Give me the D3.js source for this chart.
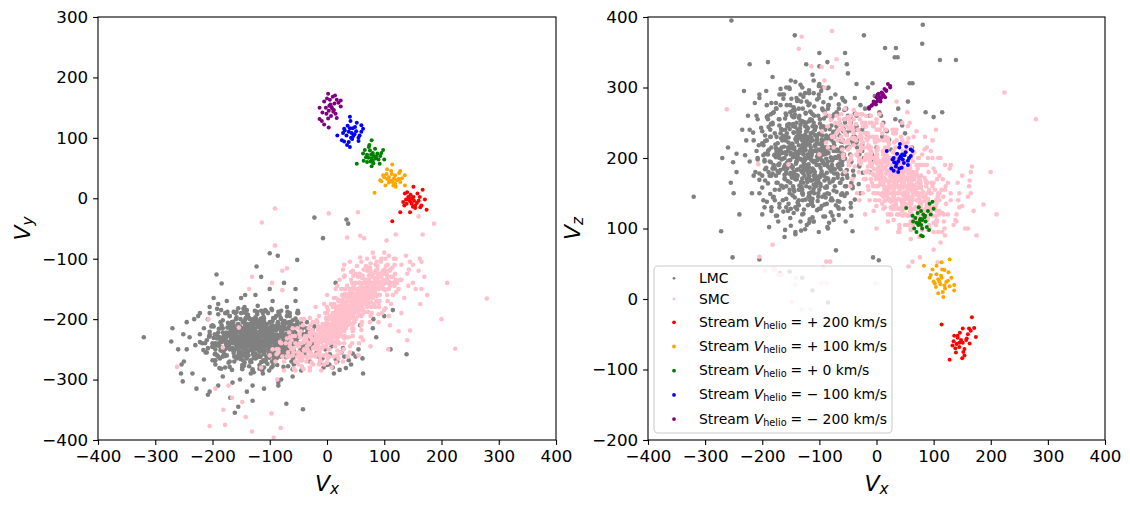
<!DOCTYPE html>
<html><head><meta charset="utf-8">
<script src="https://cdn.jsdelivr.net/npm/d3@7"></script>
<style>
body{margin:0;background:#fff;}
svg text{font-family:"DejaVu Sans",sans-serif;}
</style></head><body>
<svg id="chart" width="1130" height="507"></svg>
<script>
// LMC particles: [Vx, Vy, Vz]
const lmc = [
[-118,-231,205],[-132,-219,188],[-105,-240,221],[-141,-228,176],[-97,-215,243],[-125,-247,197],[-150,-236,214],[-110,-209,162],[-88,-230,199],[-136,-252,232],
[-121,-224,181],[-160,-241,208],[-79,-221,226],[-115,-199,151],[-144,-213,259],[-102,-249,190],[-129,-232,140],[-93,-238,212],[-168,-226,183],[-112,-218,236],
[-138,-244,203],[-85,-207,171],[-123,-262,225],[-155,-220,195],[-99,-233,249],[-131,-205,166],[-107,-227,210],[-147,-258,186],[-72,-225,201],[-119,-240,275],
[-177,-239,219],[-90,-212,158],[-127,-216,192],[-114,-251,229],[-152,-230,241],[-100,-222,174],[-135,-237,207],[-82,-244,185],[-163,-211,230],[-109,-235,196],
[-124,-228,264],[-146,-246,160],[-95,-203,218],[-117,-220,145],[-139,-255,199],[-76,-232,237],[-128,-210,211],[-158,-233,178],[-104,-243,202],[-133,-224,253],
[-185,-247,194],[-62,-214,209],[-142,-198,227],[-111,-268,183],[-170,-222,246],[-91,-250,168],[-120,-234,133],[-149,-215,284],[-68,-239,190],[-126,-205,223],
[-195,-240,206],[-83,-228,149],[-137,-260,238],[-103,-190,197],[-161,-250,171],[-74,-209,262],[-130,-241,215],[-115,-213,180],[-153,-229,300],[-96,-256,226],
[-180,-258,188],[-57,-221,205],[-122,-236,244],[-145,-204,156],[-87,-242,179],[-134,-271,212],[-108,-217,233],[-166,-237,198],[-81,-198,215],[-127,-226,127],
[-200,-245,221],[-66,-235,187],[-140,-225,170],[-99,-261,255],[-174,-214,204],[-112,-246,142],[-154,-240,229],[-78,-216,196],[-119,-252,187],[-143,-208,268],
[-90,-236,117],[-131,-223,231],[-187,-230,175],[-60,-245,223],[-116,-201,208],[-157,-263,193],[-101,-228,290],[-136,-235,155],[-70,-226,239],[-125,-257,200],
[-210,-255,210],[-48,-230,216],[-165,-205,240],[-94,-272,176],[-222,-238,195],[-52,-208,183],[-148,-280,220],[-106,-187,164],[-190,-262,260],[-64,-251,248],
[-138,-193,137],[-113,-285,206],[-205,-226,169],[-45,-219,194],[-172,-272,212],[-84,-190,275],[-128,-288,181],[-159,-200,225],[-71,-263,133],[-121,-178,219],
[-216,-251,236],[-55,-240,160],[-182,-215,185],[-97,-280,210],[-146,-183,248],[-77,-253,118],[-196,-269,197],[-40,-225,231],[-163,-188,158],[-118,-276,292],
[-230,-243,204],[-59,-266,177],[-176,-231,270],[-89,-195,144],[-133,-290,228],[-150,-190,189],[-69,-206,212],[-202,-212,243],[-108,-270,170],[-184,-252,125],
[-35,-252,222],[-20,-260,245],[-8,-265,205],[5,-258,265],[18,-270,238],[30,-262,190],[42,-275,252],[-28,-245,275],[-12,-272,180],[10,-280,230],
[25,-255,212],[38,-268,270],[50,-262,235],[-42,-258,160],[-3,-250,288],[15,-266,198],[33,-281,255],[-25,-238,240],[0,-276,215],[55,-250,280],
[-30,-270,205],[8,-245,260],[22,-284,226],[45,-257,246],[-15,-262,300],[28,-248,175],[62,-265,215],[-38,-240,230],[12,-290,250],[-5,-235,195],
[-260,-250,215],[-245,-205,180],[-235,-290,240],[-250,-270,150],[-225,-195,260],[-215,-300,175],[-240,-230,120],[-205,-180,290],[-190,-310,205],[-175,-170,230],
[-165,-305,160],[-150,-165,310],[-140,-320,195],[-125,-160,245],[-110,-315,110],[-95,-170,300],[-80,-300,140],[-70,-180,265],[-60,-295,215],[-50,-190,320],
[-270,-215,200],[-228,-315,225],[-198,-165,140],[-182,-295,315],[-130,-335,180],[-100,-150,330],[-85,-310,100],[-55,-170,280],[-45,-285,250],[-35,-205,305],
[-155,-345,210],[-115,-130,235],[-208,-325,255],[-75,-140,170],[-255,-290,165],
[-113,-226,168],[-139,-233,224],[-98,-219,186],[-127,-241,251],[-151,-224,197],[-86,-234,213],[-119,-212,178],[-143,-250,206],[-105,-238,230],[-131,-229,159],
[-162,-232,216],[-94,-226,193],[-122,-245,238],[-137,-217,184],[-109,-231,260],[-148,-239,172],[-80,-220,201],[-117,-253,219],[-156,-215,245],[-101,-242,165],
[-128,-222,209],[-171,-244,190],[-89,-237,227],[-134,-208,199],[-112,-249,152],[-145,-226,236],[-73,-229,184],[-124,-236,211],[-159,-248,263],[-97,-214,177],
[-141,-242,192],[-106,-223,244],[-130,-251,171],[-167,-229,228],[-84,-247,207],[-119,-204,191],[-152,-237,150],[-92,-228,256],[-136,-214,218],[-110,-258,183],
[-179,-233,204],[-77,-240,167],[-125,-219,233],[-149,-254,214],[-103,-233,139],[-133,-238,247],[-65,-218,192],[-115,-247,224],[-161,-221,176],[-95,-230,215],
[-144,-234,258],[-107,-211,195],[-128,-264,205],[-173,-226,165],[-88,-252,232],[-121,-227,187],[-154,-245,222],[-99,-220,173],[-138,-228,240],[-111,-239,210],
[-186,-236,230],[-70,-224,210],[-132,-246,182],[-116,-215,266],[-147,-231,188],[-91,-245,148],[-126,-232,215],[-164,-252,199],[-82,-213,241],[-118,-239,174],
[-140,-220,208],[-104,-244,226],[-135,-227,161],[-157,-241,235],[-96,-236,197],[-123,-209,250],[-150,-247,179],[-75,-233,222],[-114,-222,203],[-142,-256,244],
[-193,-243,186],[-63,-238,198],[-129,-230,270],[-168,-218,211],[-100,-249,190],[-137,-243,133],[-86,-226,228],[-120,-213,242],[-158,-229,160],[-108,-235,218],
[-146,-219,201],[-79,-248,181],[-124,-233,229],[-176,-247,214],[-102,-225,169],[-134,-212,237],[-113,-254,196],[-153,-234,248],[-90,-218,209],[-127,-249,185],
[-198,-231,218],[-58,-232,238],[-143,-224,144],[-109,-246,273],[-171,-240,179],[-87,-210,192],[-121,-238,220],[-160,-225,256],[-98,-239,202],[-132,-248,166],
[-182,-222,248],[-68,-250,176],[-139,-236,226],[-116,-221,140],[-150,-243,207],[-93,-233,245],[-126,-216,189],[-163,-256,231],[-81,-237,214],[-117,-244,158],
[-150,-241,104],[-132,-219,97],[-118,-262,108],[-101,-233,95],[-86,-208,102],[-142,-250,92],[-110,-226,110],[-125,-197,99],
[-176,-238,118],[-163,-215,124],[-151,-262,115],[-139,-227,127],[-128,-205,121],[-117,-249,113],[-104,-221,126],[-93,-268,117],[-80,-240,123],[-66,-212,119],[-58,-252,128],[-170,-195,130],[-145,-277,122],[-112,-190,116],
[-192,-232,138],[-181,-251,144],[-170,-210,135],[-158,-265,142],[-147,-229,147],[-136,-243,133],[-124,-199,141],[-113,-270,137],[-102,-224,145],[-91,-252,134],[-79,-213,143],[-68,-238,139],[-56,-260,146],[-45,-222,136],[-38,-245,141],[-186,-205,149],[-130,-285,150],[-96,-185,132],
[-200,-246,158],[-190,-222,164],[-178,-259,155],[-167,-234,161],[-155,-208,167],[-144,-272,153],[-133,-228,160],[-121,-250,166],[-110,-203,156],[-98,-239,163],[-87,-264,158],[-75,-217,154],[-64,-242,165],[-53,-229,160],[-42,-255,157],[-31,-236,163],[-160,-190,170],[-115,-280,168],[-70,-195,152],[-195,-268,168],
[-205,-221,178],[-195,-250,184],[-184,-233,175],[-173,-206,181],[-162,-262,187],[-151,-240,177],[-140,-214,183],[-129,-255,179],[-118,-231,186],[-107,-268,175],[-96,-220,181],[-85,-246,188],[-74,-203,178],[-63,-259,184],[-52,-232,176],[-41,-214,182],[-30,-250,188],[-24,-228,179],[-178,-190,185],[-122,-192,190],[-68,-278,172],[-148,-283,174],
[-208,-248,198],[-198,-212,204],[-187,-265,195],[-176,-238,201],[-165,-219,207],[-154,-252,196],[-143,-201,202],[-132,-271,198],[-121,-244,205],[-110,-216,194],[-99,-258,200],[-88,-229,206],[-77,-207,197],[-66,-248,203],[-55,-223,199],[-44,-261,195],[-33,-237,204],[-22,-212,200],[-170,-279,192],[-115,-186,208],[-60,-283,190],[-190,-192,210],
[-206,-229,218],[-195,-257,224],[-184,-210,215],[-173,-244,221],[-162,-226,227],[-151,-266,217],[-140,-238,223],[-129,-205,219],[-118,-253,226],[-107,-231,216],[-96,-270,222],[-85,-214,228],[-74,-248,218],[-63,-226,224],[-52,-204,215],[-41,-254,221],[-30,-233,227],[-25,-218,219],[-158,-188,230],[-101,-285,212],[-188,-281,212],[-65,-190,232],
[-200,-240,238],[-189,-216,244],[-178,-261,235],[-167,-233,241],[-156,-209,247],[-145,-248,236],[-134,-227,242],[-123,-264,238],[-112,-202,245],[-101,-241,234],[-90,-218,240],[-79,-257,246],[-68,-235,237],[-57,-211,243],[-46,-246,239],[-35,-224,245],[-185,-282,248],[-140,-185,250],[-95,-278,232],[-52,-190,236],
[-192,-226,258],[-181,-254,264],[-170,-212,255],[-158,-240,261],[-147,-268,267],[-136,-221,257],[-124,-247,263],[-113,-205,254],[-102,-233,260],[-91,-259,266],[-79,-219,256],[-68,-244,262],[-56,-228,268],[-45,-207,258],[-38,-252,263],[-175,-190,270],[-130,-283,252],[-85,-188,270],
[-176,-243,278],[-163,-221,284],[-151,-256,275],[-139,-208,281],[-128,-237,287],[-117,-262,277],[-104,-218,283],[-93,-246,279],[-80,-229,285],[-66,-255,276],[-58,-210,282],[-170,-270,290],[-145,-189,272],[-110,-280,292],
[-152,-236,298],[-133,-214,304],[-118,-251,296],[-101,-227,302],[-86,-205,299],[-142,-262,308],[-110,-199,310],[-125,-240,292],
[-120,-230,200],[-105,-225,190],[-135,-235,210],[-115,-240,215],[-125,-220,185],[-140,-228,195],[-95,-232,205],[-130,-245,225],[-110,-215,175],[-145,-238,180],
[-100,-244,220],[-150,-226,205],[-85,-228,195],[-160,-236,190],[-120,-250,230],[-118,-210,170],[-137,-222,235],[-92,-240,175],[-128,-232,165],[-108,-236,240],
[-155,-244,215],[-88,-218,215],[-142,-216,170],[-112,-248,185],[-126,-226,250],[-98,-226,160],[-134,-242,155],[-146,-232,245],[-104,-230,230],[-116,-222,210],
[-170,-225,200],[-75,-236,210],[-165,-240,225],[-80,-224,185],[-158,-222,180],[-82,-246,230],[-175,-246,210],[-70,-216,200],[-180,-228,190],[-62,-242,215],
[-205,-190,150],[-195,-275,232],[-185,-185,262],[-178,-280,140],[-170,-195,205],[-162,-270,290],[-155,-182,125],[-148,-276,188],[-140,-192,285],[-133,-268,110],
[-126,-186,228],[-118,-282,252],[-111,-196,132],[-104,-274,170],[-97,-183,295],[-90,-266,215],[-83,-193,108],[-76,-279,260],[-69,-188,178],[-62,-270,148],
[-55,-199,250],[-48,-262,190],[-200,-268,120],[-192,-183,275],[-182,-262,178],[-174,-188,118],[-166,-284,240],[-158,-197,300],[-151,-265,165],[-144,-180,212],
[-136,-278,270],[-129,-200,150],[-122,-188,105],[-115,-271,198],[-108,-185,245],[-101,-264,128],[-94,-198,268],[-87,-276,160],[-80,-186,232],[-72,-262,290],
[-65,-195,138],[-58,-275,205],[-51,-186,172],[-44,-268,118],[-210,-235,260],[-215,-215,225],[-212,-255,180],[-208,-200,200],[-218,-240,150],[-222,-225,240],
[-188,-245,102],[-160,-225,98],[-130,-215,300],[-100,-240,305],[-75,-230,112],[-60,-220,285],[-45,-245,130],[-35,-215,260],[-28,-240,150],[-20,-230,270],
[-205,-228,285],[-172,-242,110],[-142,-260,95],[-112,-212,318],[-84,-250,300],[-54,-235,110],[-38,-260,285],[-196,-258,130],[-168,-212,298],[-66,-205,128],
[-150,-230,190],[-120,-240,180],[-90,-225,225],[-140,-245,230],[-105,-215,210],[-160,-230,240],[-75,-245,200],[-130,-210,155],[-115,-235,265],[-95,-250,145],
[-145,-205,175],[-125,-265,215],[-85,-210,170],[-110,-255,250],[-170,-250,155],[-135,-200,260],[-100,-205,155],[-155,-260,245],[-60,-230,170],[-180,-235,265],
[-185,-215,230],[-178,-250,205],[-171,-228,255],[-164,-205,140],[-157,-262,275],[-150,-218,128],[-143,-245,262],[-136,-198,208],[-129,-258,148],[-122,-225,280],
[-115,-206,135],[-108,-252,240],[-101,-215,285],[-94,-262,195],[-87,-230,135],[-80,-200,258],[-73,-255,160],[-66,-222,270],[-59,-248,225],[-52,-212,150],
[-189,-240,180],[-182,-202,250],[-175,-260,165],[-168,-235,275],[-161,-215,200],[-154,-255,135],[-147,-205,220],[-140,-265,170],[-133,-232,290],[-126,-200,175],
[-119,-260,145],[-112,-238,262],[-105,-208,225],[-98,-248,128],[-91,-198,190],[-84,-258,275],[-77,-225,140],[-70,-250,245],[-63,-208,165],[-56,-235,255],
[-180,-228,145],[-172,-208,190],[-165,-248,290],[-158,-232,130],[-151,-200,265],[-144,-258,215],[-137,-218,282],[-130,-236,120],[-123,-205,160],[-116,-262,230],
[-109,-222,150],[-102,-256,205],[-95,-210,270],[-88,-240,172],[-81,-262,215],[-74,-214,230],[-67,-238,130],[-60,-202,195],[-53,-258,270],[-46,-228,205],
[-186,-252,240],[-176,-222,175],[-166,-205,215],[-156,-245,185],[-146,-260,258],[-136,-210,140],[-126,-250,190],[-116,-200,255],[-106,-262,160],[-96,-220,245],
[-86,-245,150],[-76,-205,185],[-66,-260,210],[-56,-225,180],[-46,-250,225],[-196,-225,195],[-192,-260,225],[-200,-210,175],[-40,-238,175],[-34,-220,215],
[-148,-222,260],[-138,-252,175],[-128,-216,195],[-118,-228,150],[-108,-242,180],[-98,-212,235],[-88,-232,260],[-158,-240,205],[-168,-218,235],[-78,-244,190],
[-142,-230,130],[-132,-222,280],[-122,-244,170],[-112,-228,225],[-102,-236,150],[-92,-252,205],[-152,-212,155],[-162,-252,185],[-172,-238,210],[-82,-216,165],
[-190,-230,255],[-184,-238,130],[-60,-250,150],[-50,-240,260],[-44,-215,165],[-36,-248,240],[-30,-222,190],[-25,-240,210],[-18,-255,235],[-12,-248,260],
[-22,-32,374],[34,-35,356],[37,-42,343],[-7,-66,306],[-100,-91,349],[-86,-95,336],[-52,-102,333],[-123,-113,333],[-193,-126,295],[-184,-141,278],
[-42,-349,96],[-71,-340,69],[-161,-355,88],[-205,-320,56],[-252,-303,59],[139,-258,339],[115,-185,265],[100,-195,258],[63,-290,306],[-245,-250,206],
[-251,-225,194],[-169,-330,37],[-152,-300,39],[-130,-310,30],[-112,-290,12],[-85,-305,-5],[-6,-280,59],[4,-275,55],[-143,-160,374],[-190,-175,336],
[-222,-190,333],[-55,-150,349],[15,-140,356],[32,-160,343],[111,-250,339],[58,-210,306],[86,-230,265],[-232,-200,295],[-213,-240,278],[-320,-230,145],
[-272,-237,96],[-254,-275,395],[81,-200,389],[80,-215,362]
];
// SMC particles: [Vx, Vy, Vz]
const smc = [
[35,-186,170],[20,-210,182],[52,-172,148],[8,-221,195],[66,-160,160],[-5,-228,176],[44,-195,130],[28,-178,190],[75,-150,141],[12,-200,205],
[58,-184,168],[-15,-240,188],[40,-165,152],[25,-215,160],[88,-140,133],[0,-205,210],[47,-190,175],[62,-170,120],[15,-230,170],[33,-175,200],
[80,-165,150],[-25,-235,214],[54,-155,185],[18,-195,145],[70,-180,158],[-8,-212,165],[38,-200,178],[95,-130,125],[22,-185,220],[60,-145,138],
[5,-240,180],[45,-170,162],[30,-220,155],[84,-155,172],[-30,-255,200],[50,-185,142],[10,-190,192],[72,-140,128],[27,-205,168],[-12,-225,230],
[65,-175,150],[42,-160,188],[2,-230,160],[90,-150,115],[36,-210,176],[-20,-245,197],[57,-165,164],[14,-215,139],[78,-130,157],[24,-170,183],
[-40,-250,218],[100,-125,130],[-35,-262,205],[105,-140,112],[-50,-255,225],[110,-118,140],[-45,-240,198],[96,-145,150],[-55,-270,235],[115,-130,122],
[-28,-230,210],[85,-120,145],[-60,-260,245],[92,-160,105],[-18,-250,180],[76,-125,168],[-32,-240,240],[102,-152,128],[-48,-268,190],[68,-135,175],
[-10,-235,205],[82,-175,118],[-38,-228,228],[98,-135,160],[-22,-260,170],[88,-148,137],[-65,-245,255],[118,-145,110],[-15,-215,215],[74,-158,130],
[4,-250,186],[64,-150,195],[16,-225,212],[56,-140,118],[-2,-198,150],[48,-205,140],[26,-160,175],[38,-230,190],[7,-175,168],[60,-195,110],
[32,-150,158],[44,-215,198],[-6,-260,160],[70,-120,150],[20,-240,228],[54,-130,170],[-3,-190,225],[86,-170,140],[12,-165,198],[40,-245,150],
[30,-195,165],[46,-178,175],[19,-205,158],[63,-162,144],[9,-215,180],[51,-168,160],[36,-182,185],[24,-198,150],[58,-158,172],[14,-208,195],
[42,-188,140],[28,-172,168],[67,-150,155],[3,-222,172],[49,-175,132],[34,-205,205],[73,-148,165],[17,-188,178],[55,-190,150],[39,-170,128],
[-12,-238,195],[81,-142,152],[26,-212,188],[61,-178,135],[6,-198,163],[45,-158,190],[22,-225,142],[69,-168,178],[11,-180,210],[53,-150,145],
[31,-230,175],[77,-160,130],[-1,-212,202],[41,-165,155],[18,-235,168],[64,-140,162],[29,-185,132],[50,-200,182],[8,-228,148],[87,-135,160],
[37,-160,170],[23,-190,198],[59,-172,125],[13,-220,185],[47,-145,165],[-7,-245,178],[72,-155,185],[33,-215,140],[57,-180,200],[21,-170,155],
[-70,-262,260],[-80,-240,254],[-90,-270,263],[-75,-285,230],[-85,-255,215],[-65,-230,240],[-95,-250,238],[-55,-285,270],[-60,-215,225],[-100,-260,205],
[130,-110,140],[125,-150,165],[140,-125,120],[120,-100,155],[135,-165,105],[145,-105,150],[128,-135,185],[150,-140,132],[115,-160,95],[138,-95,112],
[160,-120,145],[155,-150,100],[170,-130,125],[165,-105,180],[175,-160,90],[108,-95,200],[95,-100,210],[85,-110,190],[112,-175,80],[100,-185,95],
[-45,-200,260],[-25,-205,250],[-5,-175,245],[15,-150,240],[30,-130,235],[45,-120,225],[60,-105,215],[80,-90,205],[75,-115,88],[60,-230,85],
[40,-255,95],[20,-265,110],[-5,-275,125],[-30,-285,140],[90,-205,100],[110,-210,120],[130,-190,150],[55,-260,105],[0,-160,100],[-20,-180,120],
[34,-192,162],[27,-200,176],[49,-180,150],[15,-212,186],[61,-166,158],[6,-220,170],[43,-176,141],[21,-205,195],[55,-170,178],[11,-226,150],
[38,-186,183],[30,-214,145],[66,-154,170],[1,-230,192],[47,-162,165],[25,-190,138],[58,-176,190],[9,-208,175],[41,-198,156],[70,-158,148],
[18,-218,202],[52,-160,134],[33,-196,170],[-4,-236,184],[63,-148,152],[29,-176,160],[45,-208,188],[13,-198,166],[74,-164,139],[36,-170,198],
[20,-228,180],[57,-152,160],[-9,-230,208],[48,-190,146],[26,-182,184],[68,-162,130],[4,-216,190],[39,-206,168],[82,-150,145],[16,-186,154],
[53,-178,172],[31,-188,150],[-16,-244,200],[60,-156,140],[24,-222,174],[44,-168,180],[10,-214,162],[71,-145,165],[35,-198,128],[50,-158,195],
[-24,-248,222],[78,-140,135],[28,-208,158],[62,-182,162],[7,-196,182],[46,-150,148],[19,-230,192],[84,-146,125],[37,-180,176],[-10,-220,215],
[56,-164,143],[23,-200,167],[67,-170,153],[3,-238,176],[42,-154,187],[32,-210,133],[75,-152,158],[12,-190,205],[50,-172,120],[-20,-230,235],
[90,-138,142],[40,-192,160],[17,-204,150],[64,-158,180],[-2,-224,196],[54,-186,156],[29,-164,172],[80,-156,110],[8,-232,164],[45,-196,174],
[-30,-240,230],[94,-124,150],[26,-194,140],[59,-150,185],[14,-222,158],[72,-168,127],[-8,-208,188],[37,-162,150],[86,-162,128],[22,-178,165],
[-36,-252,225],[105,-128,135],[-42,-262,240],[99,-142,118],[-27,-225,196],[89,-126,165],[-50,-245,212],[108,-150,145],[-18,-258,205],[83,-132,110],
[-62,-250,230],[-58,-282,205],[-65,-240,250],[-55,-270,222],[-60,-228,212],[-68,-262,238],
[-47,-230,215],[-43,-268,228],[-49,-245,195],[-41,-283,240],[-46,-220,250],[-44,-258,203],[-50,-275,222],[-40,-238,235],
[-32,-215,210],[-28,-256,192],[-33,-228,240],[-27,-272,225],[-31,-242,180],[-29,-210,255],[-34,-265,205],[-26,-235,230],[-30,-280,198],[-28,-222,218],
[-17,-205,200],[-13,-248,230],[-16,-218,182],[-12,-262,212],[-18,-233,245],[-14,-195,218],[-11,-270,190],[-19,-240,170],[-15,-212,235],[-13,-255,205],[-16,-228,225],[-14,-275,180],
[-2,-190,195],[2,-235,215],[-1,-205,170],[3,-250,240],[-3,-220,160],[1,-265,200],[0,-180,230],[2,-212,185],[-2,-245,222],[3,-198,150],[1,-228,205],[-1,-258,175],[0,-240,250],[2,-185,212],
[13,-175,185],[17,-222,205],[14,-190,160],[16,-238,230],[12,-205,145],[18,-252,190],[15,-165,215],[13,-230,172],[17,-196,240],[14,-245,155],[16,-180,200],[12,-215,225],[18,-260,178],[15,-210,195],
[28,-165,178],[32,-210,195],[29,-180,150],[31,-228,222],[27,-150,200],[33,-195,138],[30,-240,185],[28,-172,240],[32,-205,162],[29,-250,208],[31,-158,128],[27,-218,172],[33,-185,215],[30,-232,145],
[43,-150,170],[47,-198,185],[44,-168,140],[46,-215,210],[42,-135,195],[48,-182,128],[45,-228,165],[43,-160,230],[47,-205,150],[44,-240,195],[46,-145,118],[42,-190,175],[48,-172,220],[45,-220,135],
[58,-140,160],[62,-185,175],[59,-155,130],[61,-205,200],[57,-125,185],[63,-170,118],[60,-218,155],[58,-148,215],[62,-192,140],[59,-230,180],[61,-132,108],[57,-178,165],[63,-160,205],[60,-210,125],
[73,-128,150],[77,-172,165],[74,-142,120],[76,-195,190],[72,-115,175],[78,-158,108],[75,-205,145],[73,-135,200],[77,-180,130],[74,-150,170],[76,-120,135],[72,-188,158],
[88,-118,140],[92,-160,155],[89,-132,112],[91,-180,180],[87,-105,165],[93,-145,100],[90,-192,135],[88,-125,190],[92,-170,122],[89,-140,150],
[103,-112,130],[107,-150,145],[104,-125,105],[106,-170,170],[102,-100,155],[108,-138,95],[105,-160,125],[103,-120,180],
[118,-110,120],[122,-140,135],[119,-125,100],[121,-155,160],[117,-100,145],
[35,-185,165],[40,-178,158],[25,-195,172],[50,-168,152],[20,-200,180],[55,-175,160],[30,-190,148],[45,-172,175],[15,-210,168],[60,-160,145],
[10,-205,188],[65,-155,150],[38,-200,160],[42,-170,140],[28,-182,190],[52,-185,170],[22,-215,160],[48,-158,165],[33,-178,182],[58,-172,135],
[5,-225,195],[70,-150,140],[-5,-230,200],[80,-140,138],[-10,-238,210],[85,-135,145],[36,-165,150],[26,-205,178],[46,-190,158],[16,-195,200],
[62,-165,168],[8,-215,175],[54,-150,142],[24,-178,158],[40,-208,185],[68,-140,155],[12,-190,165],[34,-172,135],[50,-198,172],[20,-188,150],
[44,-182,190],[30,-205,160],[56,-162,178],[18,-222,190],[66,-148,128],[2,-208,180],[72,-165,150],[-8,-215,192],[78,-150,160],[38,-192,142],
[22,-135,200],[28,-118,150],[35,-145,225],[40,-105,120],[46,-128,180],[52,-112,210],[58,-98,140],[64,-118,105],[70,-100,190],[76,-108,160],
[82,-98,125],[88,-112,215],[94,-105,150],[100,-118,185],[106,-110,110],[25,-150,130],[31,-128,240],[38,-158,95],[44,-140,205],[50,-125,135],
[56,-140,228],[62,-128,172],[68,-112,112],[74,-140,200],[80,-125,98],[86,-140,168],[92,-125,130],[98,-150,200],[104,-135,140],[110,-145,175],
[20,-168,215],[26,-178,128],[34,-172,235],[40,-190,105],[48,-150,195],[54,-195,222],[60,-178,100],[66,-188,208],[72,-175,118],[78,-190,175],
[84,-180,212],[90,-175,98],[96,-190,165],[102,-182,128],[108,-195,150],[18,-145,180],[30,-110,175],[42,-122,160],[66,-135,150],[90,-160,140],
[-55,-240,180],[-48,-225,255],[-42,-210,170],[-36,-270,262],[-30,-198,195],[-24,-275,150],[-18,-202,260],[-12,-268,140],[-6,-210,245],[0,-272,132],
[6,-200,240],[12,-262,128],[18,-208,225],[24,-255,140],[30,-200,235],[36,-262,120],[-52,-215,245],[-46,-262,160],[-40,-200,228],[-34,-250,150],
[-26,-218,262],[-20,-262,200],[-14,-225,155],[-8,-248,250],[-2,-230,140],[4,-262,225],[10,-238,135],[16,-272,210],[22,-240,150],[28,-270,200],
[-58,-255,200],[-38,-232,188],[-22,-246,215],[-6,-235,230],[10,-222,245],[26,-228,120],[-44,-278,245],[-28,-262,235],[-10,-285,200],[8,-280,170],
[40,-180,100],[50,-170,105],[60,-160,98],[70,-150,110],[30,-195,112],[20,-200,120],[80,-145,102],[90,-130,118],[100,-125,108],[110,-120,125],
[-20,-235,250],[-35,-245,262],[-50,-255,258],[-65,-262,248],[-10,-225,260],[0,-215,255],[10,-210,248],[-25,-220,262],[-40,-235,268],[5,-195,262],
[112,-130,200],[116,-140,170],[114,-115,155],[120,-135,190],[98,-120,225],[85,-160,230],[70,-170,238],[55,-180,245],[45,-195,250],[35,-205,240],
[-85,-250,245],[-78,-262,230],[-72,-240,250],[-68,-255,225],[-62,-235,262],[-58,-248,240],[-52,-262,232],[-75,-270,215],[-82,-238,260],[-66,-222,248],
[-88,-258,222],[-70,-232,235],[-56,-228,255],[-48,-240,242],[-40,-252,255],[-36,-235,248],[-30,-222,262],[-24,-248,245],[-18,-240,228],[-12,-228,250],
[65,-150,115],[75,-140,122],[85,-150,112],[95,-138,128],[55,-165,118],[45,-175,125],[35,-185,130],[105,-135,118],[100,-150,165],[110,-140,150],
[50,-140,160],[60,-130,170],[70,-145,180],[80,-160,190],[90,-150,200],[40,-150,200],[30,-160,210],[20,-170,225],[10,-180,235],[0,-190,240],
[20,-180,140],[10,-195,150],[0,-205,160],[-10,-215,170],[-20,-225,180],[25,-190,120],[15,-200,130],[5,-210,140],[-5,-220,150],[-15,-230,160],
[-91,-17,310],[3,-25,290],[54,-23,265],[-114,-40,330],[104,-70,240],[187,-42,134],[-91,-78,300],[35,-65,280],[58,-62,250],[65,-66,230],
[162,-100,160],[165,-150,150],[150,-110,175],[143,-118,140],[130,-135,190],[142,-145,165],[145,-219,130],[140,-235,110],[125,-220,120],[224,-249,293],
[-154,-214,191],[-182,-247,77],[-262,-279,269],[-195,-315,40],[-172,-310,34],[-148,-337,-4],[-142,-362,20],[-205,-377,60],[-178,-375,42],[-131,-386,-15],
[-141,-404,30],[-97,-356,22],[-81,-380,53],[-93,-396,45],[-70,-116,340],[-78,-152,329],[279,-166,255],[167,-60,188],[163,-175,168],
[-78,-120,380],[-131,-130,372],[-136,-150,355],[-96,-140,329],[-207,-200,191],[-88,-250,53],[-2,-210,22],[63,-235,53],[76,-245,59],[107,-250,52],
[56,-240,46],[-115,-280,-15],[-87,-300,22],[-166,-330,34],[-181,-350,42],[100,-90,70],[120,-60,90],[160,-30,100],[200,-200,180],[210,-140,120]
];
// Stream particles: [Vx, Vy, Vz]
const streamP200 = [
[151,19,-42],[167,14,-26],[136,8,-52],[142,2,-55],[151,2,-62],[162,2,-42],[171,-2,-41],[133,-6,-66],[139,-9,-76],[148,-9,-61],
[154,-12,-80],[165,-12,-45],[174,-19,-54],[128,-23,-86],[145,-23,-62],[154,-16,-71],[114,-38,-36],[142,-2,-52],[148,0,-58],[145,-5,-68],
[157,-8,-58],[140,10,-64],[150,-14,-84],[160,-4,-50],[138,-2,-70],[146,6,-48],[163,-15,-63],[135,-12,-60],[152,-4,-75],[158,8,-56]
];
const streamP100 = [
[105,48,47],[114,56,52],[128,45,56],[98,38,42],[105,32,35],[114,27,30],[119,38,41],[125,32,26],[136,38,20],[93,30,30],
[102,21,22],[116,21,10],[128,27,18],[136,21,12],[83,9,47],[110,29,25],[119,24,19],[108,35,28],[113,40,33],[122,30,24],
[100,35,25],[117,33,3],[108,26,8],[126,42,38],[112,45,21],[95,28,34],[120,19,15],[131,33,30],[104,40,17],[115,30,42]
];
const streamP0 = [
[78,96,125],[74,88,130],[98,80,138],[63,74,118],[80,75,112],[86,69,110],[93,70,135],[72,67,122],[78,66,105],[100,64,128],
[52,57,129],[64,62,110],[80,62,100],[92,57,98],[78,53,90],[84,82,116],[75,79,108],[70,72,95],[82,70,120],[76,61,112],
[88,74,102],[68,68,115],[73,85,105],[90,64,125],[66,80,100],[81,58,89],[77,72,114],[85,66,118],[70,60,108],[95,75,120]
];
const streamM100 = [
[40,135,215],[41,128,220],[60,121,212],[30,115,200],[45,116,205],[38,110,195],[51,111,208],[60,110,203],[18,104,210],[34,104,188],
[46,103,198],[55,100,190],[26,96,185],[30,94,182],[38,93,180],[55,95,196],[40,85,185],[43,108,200],[48,106,193],[40,116,199],
[36,120,206],[52,125,216],[28,108,198],[44,98,186],[63,115,210],[35,88,192],[49,118,204],[42,100,202],[31,112,194],[57,104,200]
];
const streamM200 = [
[2,173,290],[10,168,292],[24,162,300],[-5,160,280],[-13,150,272],[13,157,288],[8,151,285],[3,145,283],[24,152,302],[11,143,290],
[-1,140,276],[17,133,296],[-13,131,270],[-9,128,274],[2,132,281],[-5,122,278],[3,117,284],[5,163,287],[9,148,293],[17,163,295],
[6,155,282],[12,146,289],[-2,150,279],[15,140,286],[7,136,280],[20,158,305],[0,165,286],[-8,142,275],[4,153,291],[14,170,298]
];
const streamLabels = ["+200","+100","+0","\u2212100","\u2212200"];
const xTicks = [-400,-300,-200,-100,0,100,200,300,400];
const yTicksLeft = [-400,-300,-200,-100,0,100,200,300];
const yTicksRight = [-200,-100,0,100,200,300,400];

// ---- styles / layout ----
const streamData = [streamP200, streamP100, streamP0, streamM100, streamM200];
const streamColors = ["#ff0000","#ffa500","#008000","#0000ff","#800080"];
const LMC_COLOR = "#808080", SMC_COLOR = "#ffc0cb";
const R_CLOUD = 2.3, R_STREAM = 2.0;
const svg = d3.select("#chart");
const fmt = d => d < 0 ? "\u2212" + (-d) : String(d);

const panels = [
  {id:"L", x0:98, x1:556, top:17, bottom:440, yDomain:[-400,300], yTicks:yTicksLeft, key:1, sub:"y", ylabX:30},
  {id:"R", x0:648, x1:1105, top:17, bottom:440, yDomain:[-200,400], yTicks:yTicksRight, key:2, sub:"z", ylabX:580}
];

panels.forEach(p => {
  const x = d3.scaleLinear().domain([-400,400]).range([p.x0,p.x1]);
  const y = d3.scaleLinear().domain(p.yDomain).range([p.bottom,p.top]);
  svg.append("clipPath").attr("id","clip"+p.id).append("rect")
    .attr("x",p.x0).attr("y",p.top).attr("width",p.x1-p.x0).attr("height",p.bottom-p.top);
  const g = svg.append("g").attr("clip-path",`url(#clip${p.id})`);
  const draw = (data,color,r) => g.append("g").selectAll("circle").data(data).join("circle")
    .attr("cx",d=>x(d[0])).attr("cy",d=>y(d[p.key])).attr("r",r).attr("fill",color);
  draw(lmc, LMC_COLOR, R_CLOUD);
  draw(smc, SMC_COLOR, R_CLOUD);
  streamData.forEach((s,i) => draw(s, streamColors[i], R_STREAM));

  svg.append("rect").attr("x",p.x0).attr("y",p.top).attr("width",p.x1-p.x0).attr("height",p.bottom-p.top)
    .attr("fill","none").attr("stroke","#000").attr("stroke-width",1.1);

  const ax = svg.append("g").attr("transform",`translate(0,${p.bottom})`)
    .call(d3.axisBottom(x).tickValues(xTicks).tickFormat(fmt).tickSize(4.9).tickPadding(4.9));
  const ay = svg.append("g").attr("transform",`translate(${p.x0},0)`)
    .call(d3.axisLeft(y).tickValues(p.yTicks).tickFormat(fmt).tickSize(4.9).tickPadding(4.9));
  [ax,ay].forEach(a => {
    a.select(".domain").remove();
    a.selectAll(".tick line").attr("stroke","#000").attr("stroke-width",1.1);
    a.selectAll(".tick text").attr("fill","#000").style("font-size","16.7px").style("font-family","'DejaVu Sans',sans-serif");
  });

  const xl = svg.append("text").attr("x",(p.x0+p.x1)/2).attr("y",491).attr("text-anchor","middle")
    .style("font-size","22px");
  xl.append("tspan").style("font-style","italic").text("V");
  xl.append("tspan").attr("dy",3).style("font-style","italic").style("font-size","15.4px").text("x");

  const yl = svg.append("text").attr("transform",`translate(${p.ylabX},${(p.top+p.bottom)/2}) rotate(-90)`)
    .attr("text-anchor","middle").style("font-size","22px");
  yl.append("tspan").style("font-style","italic").text("V");
  yl.append("tspan").attr("dy",3).style("font-style","italic").style("font-size","15.4px").text(p.sub);
});

// ---- legend (right panel) ----
const lg = svg.append("g");
lg.append("rect").attr("x",654).attr("y",266).attr("width",238).attr("height",167).attr("rx",4)
  .attr("fill","#fff").attr("fill-opacity",0.8).attr("stroke","#cccccc").attr("stroke-width",1.1);
const rowY = [278.3, 299, 322.3, 346.5, 370.7, 394.9, 419.1];
const plain = [["LMC",LMC_COLOR],["SMC",SMC_COLOR]];
plain.forEach((d,i) => {
  lg.append("circle").attr("cx",674).attr("cy",rowY[i]).attr("r",1.4).attr("fill",d[1]);
  lg.append("text").attr("x",699).attr("y",rowY[i]+4.6).style("font-size","13.9px").attr("fill","#000").text(d[0]);
});
streamLabels.forEach((lab,i) => {
  const yy = rowY[i+2];
  lg.append("circle").attr("cx",674).attr("cy",yy).attr("r",1.9).attr("fill",streamColors[i]);
  const t = lg.append("text").attr("x",699).attr("y",yy+4.4).style("font-size","13.9px").attr("fill","#000");
  t.append("tspan").text("Stream");
  t.append("tspan").attr("dx",4.4).style("font-style","italic").text("V");
  t.append("tspan").attr("dy",2).style("font-size","9.7px").text("helio");
  t.append("tspan").attr("dy",-2).attr("dx",4).text("=");
  t.append("tspan").attr("dx",4.5).text(lab[0]);
  t.append("tspan").attr("dx",4.2).text(lab.slice(1));
  t.append("tspan").attr("dx",4.4).text("km/s");
});
</script>
</body></html>
